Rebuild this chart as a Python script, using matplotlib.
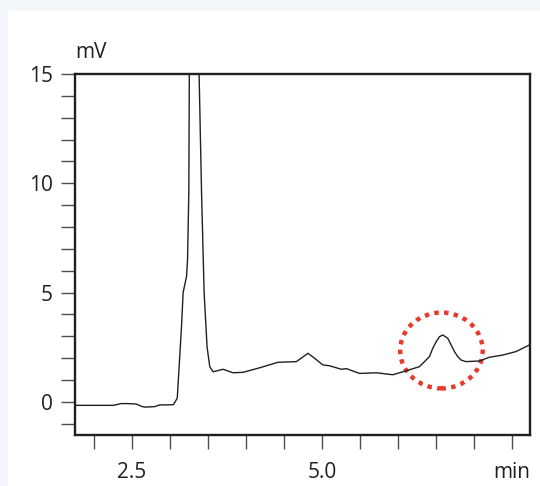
import matplotlib.pyplot as plt
from matplotlib.patches import Ellipse, Rectangle
from matplotlib.ticker import MultipleLocator, FixedLocator

plt.rcParams['font.family'] = ['Open Sans', 'DejaVu Sans']

# chromatogram (time in min, signal in mV)
time = [1.76, 2.26, 2.36, 2.45, 2.56, 2.64, 2.68, 2.80, 2.87, 2.95, 3.05,
        3.10, 3.156, 3.177, 3.222, 3.235, 3.252, 3.28, 3.419, 3.453, 3.492,
        3.528, 3.571, 3.60, 3.702, 3.833, 3.965, 4.184, 4.424, 4.665, 4.818,
        4.906, 5.014, 5.102, 5.256, 5.322, 5.496, 5.715, 5.933, 6.109, 6.283,
        6.415, 6.458, 6.503, 6.546, 6.589, 6.655, 6.70, 6.743, 6.786, 6.831,
        6.896, 7.071, 7.202, 7.377, 7.552, 7.727]
signal = [-0.16, -0.16, -0.08, -0.08, -0.10, -0.22, -0.24, -0.22, -0.14, -0.14, -0.13,
          0.17, 3.45, 5.0, 5.74, 6.5, 9.6, 33.0, 9.6, 5.0, 2.5,
          1.6, 1.38, 1.40, 1.49, 1.33, 1.35, 1.56, 1.81, 1.84, 2.22,
          1.99, 1.69, 1.65, 1.49, 1.52, 1.30, 1.33, 1.24, 1.42, 1.61,
          2.07, 2.45, 2.75, 2.98, 3.06, 2.91, 2.60, 2.30, 2.07, 1.91,
          1.84, 1.87, 2.04, 2.14, 2.30, 2.60]

# highlighted peak
mark_x, mark_y = 6.572, 2.35
mark_w, mark_h = 1.084, 3.47

x_major = [2.5, 5.0, 7.5]
x_labels = ['2.5', '5.0', 'min']
y_major = [0, 5, 10, 15]

ink = '#231f20'

fig = plt.figure(figsize=(5.4, 4.86), dpi=100)
fig.patch.set_facecolor('#f3f7fc')
fig.patches.append(Rectangle((7.5 / 540, 0), 1, 1 - 10.7 / 486,
                             transform=fig.transFigure, facecolor='white',
                             edgecolor='none', zorder=-10))

ax = fig.add_axes([75 / 540, 1 - 435.5 / 486, 455 / 540, 361.5 / 486])
ax.set_facecolor('white')
ax.plot(time, signal, color=ink, lw=1.0, solid_joinstyle='round')

ax.add_patch(Ellipse((mark_x, mark_y), mark_w, mark_h, fill=False,
                     edgecolor='#e8392c', lw=3.2, linestyle=(0, (1, 1.2))))

ax.set_xlim(1.756, 7.736)
ax.set_ylim(-1.54, 15.0)

ax.xaxis.set_major_locator(FixedLocator(x_major))
ax.set_xticklabels(x_labels)
ax.xaxis.set_minor_locator(MultipleLocator(0.5))
ax.yaxis.set_major_locator(FixedLocator(y_major))
ax.yaxis.set_minor_locator(MultipleLocator(1))

for s in ax.spines.values():
    s.set_linewidth(1.7)
    s.set_color(ink)

ax.tick_params(axis='both', which='both', direction='out', length=9.8,
               width=1.0, color='#4d4d4d', labelsize=15, labelcolor=ink)
ax.tick_params(axis='x', which='both', pad=9)
ax.tick_params(axis='y', which='both', pad=6)

fig.text(75 / 540, 1 - 52 / 486, 'mV', fontsize=15, color=ink,
         ha='left', va='center')

fig.savefig('out.png', dpi=100, facecolor=fig.get_facecolor())
